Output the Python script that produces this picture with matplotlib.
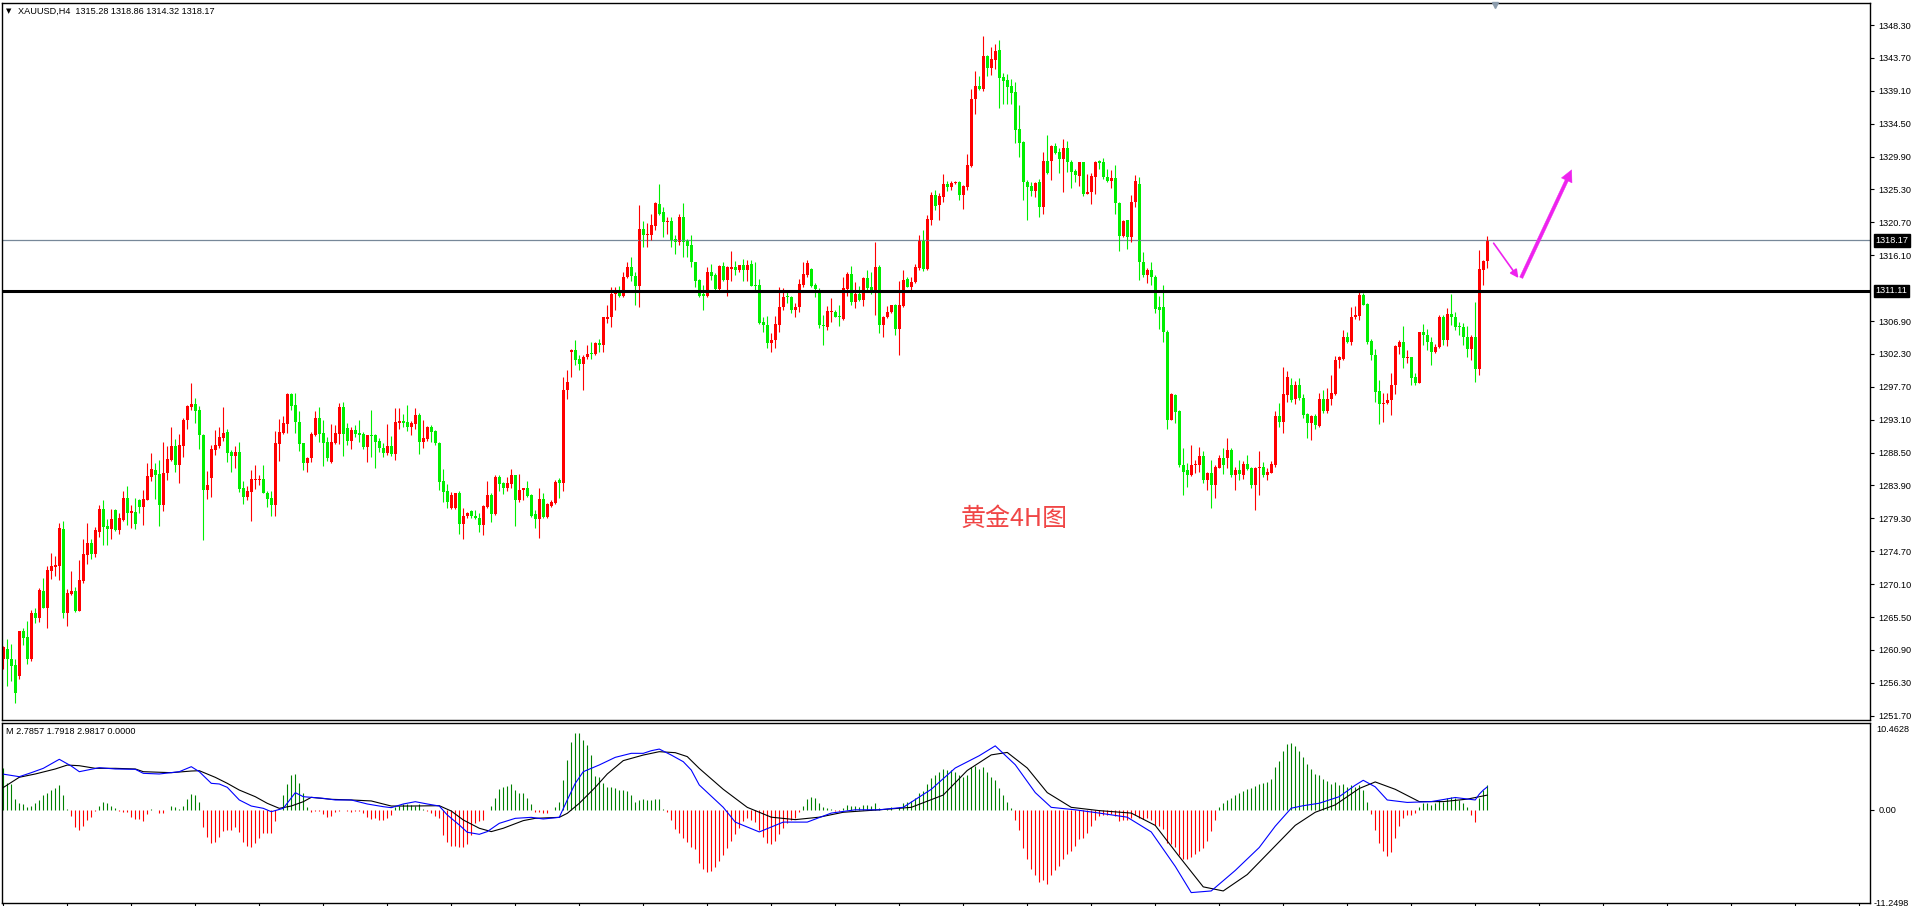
import matplotlib
matplotlib.use('Agg')
import matplotlib.pyplot as plt
import matplotlib.transforms as mtransforms
from matplotlib.patches import FancyArrowPatch
from matplotlib.lines import Line2D

# XAUUSD H4 candles, oldest first
opens = [
    1259.7, 1261.1, 1259.7, 1258.8, 1257.3, 1263.5, 1262.7, 1259.7, 1266.0, 1265.4,
    1269.1, 1266.8, 1271.9, 1272.5, 1272.6, 1277.8, 1266.0, 1268.7, 1269.1, 1266.4,
    1270.5, 1274.2, 1275.9, 1274.3, 1277.4, 1280.6, 1278.3, 1277.8, 1280.5, 1277.7,
    1279.1, 1282.2, 1280.1, 1280.2, 1281.9, 1280.9, 1281.9, 1285.1, 1286.1, 1285.5,
    1281.2, 1285.6, 1287.5, 1289.4, 1286.8, 1289.4, 1293.0, 1294.9, 1295.3, 1294.5,
    1291.0, 1283.2, 1285.0, 1288.9, 1289.4, 1290.5, 1291.4, 1288.6, 1288.0, 1288.6,
    1283.5, 1282.3, 1283.0, 1284.6, 1284.7, 1284.8, 1282.9, 1282.1, 1281.2, 1289.7,
    1291.2, 1292.5, 1296.7, 1295.1, 1292.8, 1289.8, 1287.0, 1287.7, 1291.0, 1293.3,
    1291.2, 1290.0, 1287.2, 1289.8, 1291.1, 1294.9, 1291.9, 1290.1, 1291.7, 1291.2,
    1291.1, 1289.3, 1291.0, 1291.0, 1290.1, 1289.2, 1288.4, 1289.4, 1288.3, 1292.6,
    1292.9, 1292.8, 1292.1, 1292.5, 1293.8, 1290.0, 1290.4, 1292.1, 1291.5, 1289.9,
    1284.5, 1283.1, 1280.7, 1280.7, 1282.8, 1278.5, 1279.6, 1280.3, 1279.7, 1279.4,
    1278.4, 1280.9, 1282.5, 1279.9, 1285.1, 1284.3, 1283.6, 1284.1, 1285.3, 1281.8,
    1283.2, 1283.5, 1282.5, 1279.9, 1279.2, 1282.0, 1279.5, 1281.1, 1281.5, 1284.7,
    1284.2, 1297.3, 1302.6, 1302.9, 1301.6, 1300.9, 1301.8, 1302.4, 1302.3, 1303.8,
    1303.5, 1307.2, 1307.4, 1310.7, 1310.9, 1310.4, 1313.0, 1314.4, 1313.2, 1311.8,
    1319.8, 1318.9, 1318.9, 1320.2, 1323.3, 1322.2, 1320.8, 1320.9, 1318.4, 1317.9,
    1321.4, 1318.1, 1317.5, 1315.2, 1312.6, 1310.7, 1310.4, 1313.7, 1313.4, 1311.4,
    1314.6, 1312.7, 1314.2, 1314.5, 1314.0, 1314.7, 1314.0, 1314.9, 1311.9, 1311.9,
    1306.8, 1306.3, 1303.8, 1304.2, 1306.4, 1308.8, 1310.3, 1310.3, 1308.4, 1308.8,
    1311.9, 1313.3, 1314.2, 1311.9, 1311.3, 1306.3, 1306.1, 1308.1, 1308.1, 1307.6,
    1307.2, 1311.4, 1313.5, 1309.6, 1310.7, 1309.9, 1312.9, 1311.6, 1310.8, 1314.4,
    1306.3, 1307.4, 1308.1, 1309.1, 1305.8, 1309.0, 1312.8, 1311.7, 1312.3, 1314.3,
    1318.2, 1314.2, 1321.0, 1324.5, 1323.1, 1324.3, 1326.1, 1325.7, 1326.2, 1326.4,
    1324.5, 1325.7, 1328.6, 1337.9, 1339.8, 1339.3, 1344.0, 1342.3, 1343.4, 1344.8,
    1341.0, 1340.6, 1339.8, 1339.0, 1333.8, 1332.0, 1326.4, 1325.8, 1325.1, 1326.3,
    1322.8, 1329.3, 1329.3, 1331.4, 1330.6, 1329.6, 1331.1, 1329.2, 1327.9, 1327.2,
    1329.1, 1324.7, 1324.9, 1327.1, 1329.3, 1329.1, 1327.1, 1326.5, 1326.9, 1323.4,
    1318.8, 1321.0, 1318.6, 1323.5, 1326.0, 1315.2, 1313.3, 1314.0, 1313.1, 1308.8,
    1308.8, 1305.3, 1293.1, 1296.6, 1294.3, 1286.8, 1286.1, 1285.3, 1286.7, 1286.7,
    1288.0, 1284.7, 1285.7, 1283.9, 1286.4, 1287.8, 1287.7, 1288.9, 1285.3, 1286.0,
    1285.4, 1286.9, 1286.4, 1284.0, 1286.3, 1286.5, 1285.3, 1285.7, 1286.7, 1293.6,
    1292.8, 1296.6, 1298.0, 1296.0, 1298.0, 1296.2, 1293.9, 1292.6, 1293.6, 1292.2,
    1296.0, 1294.3, 1296.0, 1296.7, 1301.5, 1301.6, 1304.7, 1304.0, 1307.4, 1307.6,
    1310.5, 1309.3, 1304.1, 1302.2, 1297.1, 1295.3, 1295.5, 1295.8, 1297.9, 1303.2,
    1303.9, 1301.7, 1301.8, 1299.1, 1298.3, 1305.3, 1305.0, 1304.0, 1302.5, 1303.2,
    1307.4, 1304.3, 1307.9, 1307.5, 1306.2, 1306.0, 1304.7, 1303.0, 1304.7, 1300.2,
    1314.0, 1315.28,
]
highs = [
    1261.4, 1262.4, 1261.7, 1259.6, 1263.6, 1264.0, 1265.0, 1266.5, 1266.7, 1269.5,
    1270.9, 1272.6, 1274.5, 1274.1, 1278.7, 1278.9, 1269.4, 1271.9, 1269.7, 1273.5,
    1276.4, 1278.7, 1276.4, 1278.1, 1281.2, 1281.9, 1279.2, 1280.6, 1280.6, 1280.0,
    1283.1, 1283.8, 1281.2, 1282.1, 1282.0, 1283.3, 1287.0, 1288.4, 1287.0, 1287.5,
    1290.0, 1289.4, 1292.1, 1290.4, 1291.1, 1293.3, 1295.1, 1298.2, 1296.2, 1295.0,
    1291.1, 1285.9, 1289.6, 1291.7, 1292.1, 1294.9, 1291.8, 1288.9, 1289.4, 1290.0,
    1284.5, 1283.8, 1286.1, 1286.8, 1285.4, 1286.8, 1283.1, 1283.1, 1291.5, 1293.2,
    1293.6, 1296.8, 1296.8, 1296.8, 1294.3, 1289.9, 1287.9, 1291.4, 1294.3, 1294.9,
    1293.1, 1290.7, 1292.5, 1292.4, 1295.4, 1295.6, 1292.6, 1292.1, 1292.4, 1293.1,
    1291.4, 1291.0, 1294.5, 1291.1, 1290.6, 1289.9, 1292.5, 1290.8, 1294.8, 1294.8,
    1293.9, 1295.2, 1292.9, 1294.8, 1294.1, 1293.1, 1292.2, 1292.3, 1291.7, 1290.0,
    1286.2, 1284.1, 1283.0, 1282.9, 1283.1, 1280.8, 1280.2, 1280.5, 1280.5, 1280.0,
    1281.2, 1284.5, 1282.8, 1285.3, 1285.4, 1284.4, 1285.1, 1286.2, 1285.4, 1285.5,
    1283.6, 1284.5, 1282.7, 1280.5, 1283.6, 1282.9, 1281.5, 1281.9, 1284.7, 1284.9,
    1299.1, 1300.1, 1303.0, 1304.3, 1302.2, 1302.1, 1303.6, 1303.9, 1303.9, 1304.4,
    1307.5, 1309.1, 1311.6, 1311.6, 1311.8, 1313.8, 1315.2, 1315.8, 1313.8, 1323.1,
    1320.9, 1320.6, 1321.9, 1323.5, 1326.1, 1322.8, 1321.5, 1321.5, 1318.9, 1321.9,
    1323.4, 1318.4, 1318.9, 1315.2, 1312.8, 1311.9, 1314.4, 1314.9, 1313.6, 1314.7,
    1315.1, 1314.6, 1316.7, 1315.3, 1314.8, 1315.6, 1315.4, 1315.5, 1315.1, 1312.8,
    1307.5, 1307.6, 1305.2, 1307.6, 1311.7, 1311.5, 1311.0, 1310.4, 1309.4, 1312.8,
    1315.2, 1315.4, 1314.3, 1312.2, 1311.5, 1307.7, 1309.0, 1310.1, 1308.4, 1309.1,
    1313.0, 1313.7, 1314.6, 1312.4, 1311.8, 1313.0, 1314.0, 1313.7, 1317.9, 1314.7,
    1307.6, 1309.0, 1309.2, 1309.3, 1312.5, 1314.1, 1313.0, 1313.0, 1314.9, 1319.0,
    1319.7, 1321.7, 1324.9, 1325.2, 1324.8, 1327.5, 1326.5, 1326.5, 1326.5, 1326.5,
    1325.9, 1330.3, 1339.3, 1341.8, 1341.2, 1346.7, 1344.1, 1345.2, 1345.7, 1346.2,
    1341.6, 1341.4, 1340.7, 1340.4, 1337.1, 1332.1, 1326.6, 1326.4, 1326.4, 1326.7,
    1330.5, 1332.9, 1331.5, 1331.8, 1331.1, 1332.4, 1332.1, 1329.4, 1328.1, 1329.2,
    1329.1, 1327.5, 1327.6, 1329.3, 1329.4, 1329.7, 1328.2, 1328.0, 1328.7, 1323.5,
    1321.1, 1321.1, 1324.5, 1327.3, 1327.0, 1316.5, 1314.3, 1315.1, 1313.3, 1310.4,
    1311.9, 1305.6, 1296.9, 1296.7, 1294.4, 1289.2, 1287.1, 1289.6, 1287.5, 1289.3,
    1288.7, 1285.8, 1287.5, 1286.8, 1288.2, 1289.1, 1290.6, 1289.1, 1286.5, 1287.4,
    1287.3, 1288.2, 1286.5, 1286.5, 1288.7, 1287.2, 1286.3, 1287.3, 1294.3, 1295.5,
    1300.5, 1299.9, 1298.9, 1298.5, 1299.0, 1296.7, 1294.1, 1293.8, 1293.9, 1296.8,
    1297.3, 1297.5, 1299.4, 1302.0, 1302.0, 1305.7, 1305.3, 1308.9, 1309.0, 1311.1,
    1310.8, 1309.4, 1304.4, 1303.0, 1298.7, 1296.9, 1296.8, 1299.6, 1303.6, 1304.3,
    1306.2, 1302.9, 1301.9, 1299.7, 1305.3, 1306.5, 1305.8, 1304.6, 1303.7, 1307.8,
    1307.7, 1308.7, 1310.7, 1308.1, 1306.7, 1306.6, 1306.2, 1305.0, 1309.5, 1316.8,
    1315.5, 1318.86,
]
lows = [
    1258.3, 1255.8, 1256.5, 1253.5, 1256.9, 1261.6, 1259.0, 1259.4, 1264.6, 1264.8,
    1266.7, 1263.9, 1270.8, 1271.3, 1270.7, 1265.4, 1264.2, 1268.6, 1266.2, 1266.3,
    1270.3, 1272.9, 1273.6, 1273.9, 1276.7, 1275.6, 1275.6, 1276.4, 1277.6, 1277.1,
    1279.0, 1278.4, 1278.0, 1277.8, 1280.1, 1278.4, 1281.8, 1284.5, 1282.0, 1278.3,
    1280.4, 1284.7, 1287.3, 1285.8, 1284.3, 1287.9, 1291.8, 1294.4, 1292.7, 1289.0,
    1276.3, 1282.0, 1282.3, 1288.2, 1289.1, 1290.1, 1287.2, 1285.8, 1286.4, 1283.0,
    1281.3, 1281.8, 1278.9, 1283.4, 1284.0, 1282.8, 1280.9, 1279.6, 1279.6, 1287.3,
    1291.1, 1291.2, 1294.5, 1291.2, 1288.7, 1286.1, 1285.8, 1287.2, 1290.8, 1290.0,
    1286.6, 1287.3, 1287.0, 1289.7, 1289.7, 1288.0, 1289.6, 1289.0, 1290.7, 1290.0,
    1289.0, 1287.2, 1287.9, 1286.3, 1288.6, 1287.9, 1288.2, 1288.0, 1287.5, 1291.8,
    1292.1, 1291.5, 1291.0, 1291.8, 1288.3, 1289.2, 1290.1, 1290.0, 1289.5, 1283.3,
    1281.6, 1280.7, 1280.6, 1280.6, 1277.1, 1276.4, 1279.3, 1279.4, 1279.2, 1277.4,
    1277.0, 1280.7, 1278.8, 1279.8, 1283.1, 1282.7, 1283.1, 1283.6, 1278.3, 1281.6,
    1281.9, 1282.3, 1279.5, 1278.0, 1276.5, 1279.4, 1279.4, 1280.9, 1281.3, 1282.1,
    1283.1, 1296.0, 1299.1, 1300.8, 1300.0, 1297.3, 1301.6, 1301.6, 1302.2, 1302.5,
    1302.5, 1306.6, 1306.0, 1308.4, 1310.3, 1310.2, 1312.9, 1312.5, 1309.1, 1308.8,
    1317.2, 1317.2, 1318.2, 1319.7, 1321.7, 1318.6, 1319.1, 1317.3, 1316.3, 1317.5,
    1315.9, 1315.9, 1314.5, 1311.6, 1310.2, 1308.4, 1310.3, 1312.6, 1311.2, 1311.2,
    1312.5, 1310.4, 1312.5, 1313.3, 1313.8, 1312.5, 1312.5, 1311.8, 1311.2, 1306.5,
    1305.4, 1303.1, 1302.5, 1303.1, 1305.3, 1308.5, 1309.4, 1308.0, 1307.5, 1308.2,
    1311.7, 1313.1, 1311.7, 1310.3, 1305.9, 1303.5, 1305.6, 1306.8, 1307.4, 1306.2,
    1307.1, 1310.4, 1309.1, 1308.7, 1309.7, 1309.0, 1311.2, 1310.7, 1307.7, 1305.2,
    1304.7, 1307.3, 1308.0, 1304.9, 1302.2, 1308.9, 1311.6, 1311.1, 1312.2, 1314.0,
    1313.9, 1314.1, 1320.3, 1322.4, 1321.0, 1323.6, 1325.1, 1325.2, 1326.1, 1323.8,
    1322.6, 1325.2, 1328.4, 1335.9, 1339.2, 1339.1, 1341.2, 1341.3, 1342.2, 1336.7,
    1337.3, 1337.3, 1337.3, 1331.8, 1329.9, 1323.8, 1321.0, 1324.4, 1324.3, 1321.4,
    1321.9, 1327.5, 1326.6, 1330.2, 1327.6, 1325.0, 1327.7, 1325.5, 1326.3, 1325.8,
    1324.4, 1324.6, 1323.3, 1324.7, 1328.1, 1326.7, 1326.4, 1325.5, 1321.9, 1316.7,
    1318.7, 1317.0, 1317.9, 1322.8, 1312.7, 1313.1, 1312.2, 1312.0, 1308.0, 1305.8,
    1304.0, 1291.8, 1293.0, 1292.7, 1286.5, 1282.5, 1283.7, 1285.2, 1285.7, 1285.8,
    1284.2, 1283.2, 1280.8, 1282.2, 1286.3, 1285.5, 1286.3, 1285.1, 1283.2, 1284.7,
    1284.8, 1286.0, 1283.5, 1280.5, 1282.5, 1285.1, 1284.7, 1285.6, 1286.5, 1292.1,
    1291.2, 1295.6, 1295.6, 1295.3, 1295.9, 1293.3, 1290.5, 1290.2, 1291.8, 1292.1,
    1294.0, 1294.1, 1295.2, 1296.6, 1300.4, 1301.4, 1303.8, 1303.6, 1307.2, 1307.0,
    1309.1, 1303.7, 1301.4, 1295.6, 1292.5, 1292.8, 1295.3, 1293.7, 1296.7, 1302.3,
    1300.4, 1301.1, 1297.9, 1297.9, 1298.2, 1303.6, 1302.9, 1300.7, 1302.4, 1303.1,
    1303.6, 1303.4, 1306.4, 1305.7, 1305.0, 1303.6, 1301.9, 1301.4, 1298.4, 1299.4,
    1311.9, 1314.32,
]
closes = [
    1261.3, 1259.6, 1258.7, 1254.9, 1263.5, 1262.6, 1259.7, 1266.1, 1265.4, 1269.3,
    1266.8, 1272.1, 1272.6, 1272.8, 1278.0, 1266.0, 1268.9, 1269.1, 1266.4, 1270.7,
    1274.3, 1275.8, 1274.3, 1277.7, 1280.6, 1278.1, 1277.8, 1279.2, 1277.7, 1279.4,
    1282.2, 1280.1, 1280.3, 1278.5, 1280.9, 1282.0, 1285.2, 1286.2, 1285.4, 1281.2,
    1285.6, 1287.6, 1289.4, 1286.8, 1289.6, 1293.1, 1295.0, 1295.3, 1294.3, 1291.0,
    1283.2, 1284.0, 1289.0, 1289.6, 1290.7, 1291.2, 1288.5, 1288.0, 1288.6, 1283.4,
    1282.3, 1283.1, 1284.8, 1284.8, 1284.8, 1282.9, 1282.0, 1281.2, 1289.8, 1291.4,
    1292.6, 1296.7, 1295.0, 1292.8, 1289.7, 1287.0, 1287.7, 1291.1, 1293.3, 1291.1,
    1289.8, 1287.7, 1290.0, 1291.2, 1294.9, 1291.1, 1290.1, 1291.7, 1291.1, 1291.0,
    1289.3, 1291.0, 1290.8, 1290.0, 1289.1, 1288.4, 1289.4, 1288.3, 1292.8, 1292.9,
    1292.6, 1292.1, 1292.6, 1293.8, 1290.0, 1290.5, 1292.1, 1291.4, 1289.8, 1284.4,
    1283.0, 1281.6, 1282.5, 1282.8, 1278.5, 1279.7, 1280.1, 1279.7, 1279.3, 1278.4,
    1281.1, 1282.5, 1279.9, 1285.1, 1284.1, 1283.6, 1284.2, 1285.3, 1281.8, 1283.3,
    1283.5, 1282.4, 1279.7, 1279.2, 1282.0, 1279.5, 1281.3, 1281.6, 1284.4, 1284.3,
    1297.3, 1298.4, 1302.9, 1301.5, 1300.9, 1301.9, 1302.3, 1302.3, 1303.8, 1303.5,
    1307.4, 1307.5, 1310.7, 1310.9, 1310.4, 1313.1, 1314.5, 1313.2, 1311.8, 1319.8,
    1318.9, 1319.1, 1320.3, 1323.4, 1321.9, 1320.8, 1320.9, 1318.2, 1317.9, 1321.4,
    1318.0, 1317.4, 1315.1, 1312.5, 1310.4, 1310.4, 1313.7, 1313.2, 1311.4, 1314.6,
    1312.7, 1314.4, 1314.5, 1314.0, 1314.7, 1314.0, 1314.7, 1311.8, 1311.8, 1306.6,
    1306.3, 1303.8, 1304.2, 1306.5, 1308.8, 1310.3, 1310.2, 1308.4, 1308.8, 1312.1,
    1313.5, 1315.0, 1311.8, 1311.4, 1306.3, 1306.2, 1308.3, 1308.3, 1307.5, 1307.5,
    1311.5, 1313.5, 1309.6, 1310.7, 1309.8, 1312.9, 1311.5, 1310.8, 1314.4, 1306.3,
    1307.5, 1308.1, 1309.1, 1305.8, 1309.2, 1312.6, 1311.7, 1312.4, 1314.4, 1318.2,
    1314.2, 1321.2, 1324.5, 1323.0, 1324.4, 1326.1, 1325.7, 1326.2, 1326.3, 1324.5,
    1325.8, 1328.7, 1338.0, 1339.8, 1339.4, 1344.0, 1342.3, 1343.5, 1344.7, 1340.9,
    1340.5, 1339.7, 1338.8, 1333.6, 1331.8, 1326.3, 1325.7, 1325.1, 1326.2, 1322.9,
    1329.3, 1327.6, 1331.4, 1330.4, 1329.5, 1331.1, 1329.1, 1327.8, 1327.3, 1329.1,
    1324.7, 1325.0, 1327.2, 1329.2, 1329.0, 1327.0, 1326.5, 1326.9, 1323.4, 1318.8,
    1320.9, 1318.6, 1323.5, 1326.5, 1315.1, 1313.3, 1314.0, 1313.0, 1308.6, 1308.4,
    1305.3, 1293.0, 1296.7, 1294.2, 1286.7, 1285.8, 1285.3, 1286.8, 1286.8, 1288.0,
    1284.7, 1285.7, 1283.9, 1286.5, 1287.8, 1286.7, 1288.9, 1285.3, 1286.0, 1285.5,
    1286.9, 1286.2, 1284.0, 1286.4, 1286.5, 1285.3, 1285.8, 1286.9, 1293.6, 1292.8,
    1296.7, 1299.1, 1295.9, 1298.0, 1296.2, 1293.8, 1292.6, 1293.6, 1292.4, 1296.0,
    1294.3, 1296.0, 1296.9, 1301.5, 1301.8, 1304.7, 1304.0, 1307.5, 1307.7, 1310.5,
    1309.2, 1303.9, 1302.2, 1297.0, 1295.3, 1295.5, 1295.9, 1298.0, 1303.4, 1303.9,
    1301.7, 1301.8, 1299.0, 1298.3, 1305.3, 1305.0, 1303.9, 1302.5, 1303.3, 1307.4,
    1304.3, 1307.9, 1307.4, 1306.1, 1306.0, 1304.6, 1303.0, 1304.7, 1300.2, 1314.2,
    1315.3, 1318.17,
]

# MACD sub-window: histogram (one bar per candle) and the two lines read at sample bars
macd_hist = [
    5.06, 3.23, 3.15, 1.32, 0.79, 0.67, 0.30, 0.46, 0.79, 1.21,
    1.80, 2.09, 2.41, 2.62, 3.02, 1.80, 0.05, -0.76, -2.14, -2.46,
    -1.98, -1.24, -0.92, -0.15, 0.46, 0.95, 0.79, 0.46, 0.18, -0.15,
    -0.23, -0.23, -0.92, -1.16, -1.16, -1.33, -0.55, 0.06, 0.02, -0.43,
    -0.35, -0.02, 0.46, 0.30, 0.14, 0.46, 1.28, 1.93, 1.80, 0.99,
    -2.14, -3.28, -4.01, -3.89, -3.28, -2.54, -2.46, -2.46, -2.14, -2.67,
    -3.89, -4.41, -4.49, -4.09, -3.40, -2.87, -2.87, -2.79, -1.33, 0.02,
    1.76, 3.15, 4.24, 4.37, 3.23, 2.01, 0.38, -0.23, -0.15, -0.15,
    -0.55, -0.92, -0.76, -0.23, -0.15, -0.02, -0.10, -0.27, -0.15, -0.15,
    -0.43, -0.92, -1.16, -1.04, -1.24, -1.24, -1.04, -0.63, 0.38, 0.46,
    0.71, 0.67, 0.59, 0.46, 0.71, 0.06, -0.15, -0.35, -0.76, -1.04,
    -3.07, -3.89, -4.37, -4.37, -4.49, -4.49, -4.21, -3.07, -1.65, -1.36,
    -1.24, 0.02, 0.46, 1.48, 2.50, 2.74, 2.90, 3.15, 2.41, 2.01,
    2.09, 1.48, 0.71, -0.23, -0.23, -0.35, -0.35, -0.02, 0.38, 0.99,
    3.63, 6.07, 8.31, 9.41, 9.41, 8.51, 7.90, 6.68, 4.12, 3.96,
    3.23, 2.82, 2.74, 2.62, 2.41, 2.41, 2.33, 1.80, 0.99, 1.20,
    1.28, 1.20, 1.20, 1.28, 1.32, 0.05, -0.23, -1.24, -2.38, -2.87,
    -3.48, -3.89, -4.49, -4.82, -6.50, -7.20, -7.60, -7.50, -7.00, -6.30,
    -5.50, -4.60, -3.80, -3.00, -2.20, -1.40, -1.00, -1.20, -1.50, -2.50,
    -3.30, -4.00, -4.20, -3.80, -3.00, -2.20, -1.60, -1.30, -1.00, -0.30,
    0.50, 1.30, 1.60, 1.50, 0.80, 0.30, 0.20, 0.10, -0.10, -0.20,
    0.20, 0.60, 0.50, 0.50, 0.40, 0.60, 0.60, 0.50, 0.80, 0.20,
    0.02, 0.10, 0.30, 0.02, 0.30, 0.80, 1.00, 1.10, 1.40, 2.00,
    2.30, 3.10, 3.90, 4.30, 4.60, 5.00, 4.90, 4.80, 4.60, 4.20,
    4.00, 4.20, 5.20, 5.40, 5.00, 5.20, 4.60, 4.00, 3.60, 2.60,
    1.80, 1.00, 0.20, -1.20, -2.50, -4.60, -6.00, -7.20, -8.00, -8.80,
    -8.60, -9.00, -8.00, -7.40, -6.80, -6.00, -5.40, -5.00, -4.40, -3.60,
    -3.40, -2.80, -2.00, -1.20, -0.80, -0.60, -0.60, -0.50, -0.80, -1.40,
    -1.20, -1.30, -1.00, -0.60, -1.00, -1.10, -1.00, -1.20, -1.80, -2.00,
    -2.40, -4.00, -4.20, -4.50, -5.50, -6.00, -6.00, -5.70, -5.40, -5.00,
    -4.60, -3.80, -2.60, -1.20, 0.30, 0.80, 1.20, 1.50, 1.80, 2.00,
    2.30, 2.50, 2.60, 2.90, 3.20, 3.30, 3.40, 3.70, 5.20, 6.00,
    7.20, 8.00, 8.20, 7.80, 7.20, 6.40, 5.60, 5.00, 4.40, 4.20,
    3.80, 3.50, 3.20, 3.40, 3.00, 3.20, 2.80, 3.00, 2.80, 3.00,
    2.40, 1.00, -0.50, -2.50, -4.00, -5.00, -5.60, -5.20, -3.40, -2.00,
    -1.00, -0.60, -0.60, -0.40, 0.40, 0.80, 0.80, 0.60, 0.80, 1.20,
    1.00, 1.40, 1.60, 1.40, 1.20, 0.80, 0.30, -0.60, -1.50, 1.50,
    2.40, 2.98,
]
dif_bars = [0, 4, 7, 10, 14, 17, 19, 24, 28, 33, 35, 39, 44, 47, 49, 52, 54, 56, 59, 62,
            65, 67, 70, 73, 75, 77, 80, 83, 87, 91, 95, 97, 100, 103, 106, 109, 111, 114, 116, 119,
            121, 124, 128, 132, 135, 139, 141, 143, 145, 149, 153, 157, 160, 162, 164, 167, 170, 172, 174, 180,
            183, 189, 195, 201, 207, 213, 219, 225, 232, 238, 244, 248, 253, 258, 262, 268, 274, 281, 287, 293,
            297, 302, 308, 314, 318, 322, 325, 329, 334, 338, 340, 343, 346, 351, 357, 363, 368, 369, 370, 371]
dif_vals = [4.35, 4.04, 4.53, 5.06, 6.16, 5.34, 4.65, 5.14, 4.98, 4.94, 4.45, 4.37, 4.65, 5.26, 4.65, 3.23, 3.15, 2.74, 1.20, 0.46,
            0.18, -0.23, 0.18, 2.09, 1.60, 1.52, 1.40, 1.20, 1.20, 0.71, 0.38, 0.26, 0.71, 0.99, 0.71, 0.46, -0.63, -1.85, -2.74, -2.99,
            -2.66, -1.65, -1.04, -0.92, -1.12, -0.92, 1.20, 3.23, 4.65, 5.47, 6.40, 6.89, 6.89, 7.21, 7.41, 6.68, 5.87, 4.85, 3.03, 0.30,
            -1.50, -2.70, -1.50, -1.50, -0.40, 0.00, 0.00, 0.30, 2.50, 5.10, 6.60, 7.80, 5.50, 2.10, 0.30, 0.00, -0.40, -0.90, -2.70, -6.90,
            -10.10, -9.90, -7.40, -4.60, -2.00, 0.20, 0.50, 0.80, 1.60, 3.00, 3.60, 2.80, 1.20, 0.90, 1.00, 1.50, 1.20, 1.90, 2.40, 2.79]
dea_bars = [0, 4, 8, 13, 16, 19, 23, 28, 33, 35, 42, 47, 49, 53, 56, 59, 63, 66, 69, 72,
            75, 77, 82, 87, 92, 97, 102, 109, 112, 115, 119, 122, 125, 130, 133, 139, 141, 144, 148, 151,
            155, 160, 164, 168, 171, 174, 180, 186, 192, 198, 204, 210, 219, 227, 235, 241, 247, 251, 256, 261,
            267, 274, 282, 288, 294, 300, 305, 311, 317, 323, 328, 333, 339, 343, 348, 354, 360, 366, 371]
dea_vals = [2.72, 3.97, 4.37, 4.98, 5.46, 5.38, 5.06, 5.06, 4.98, 4.65, 4.53, 4.73, 4.77, 3.96, 3.23, 2.41, 1.60, 0.79, 0.18, 0.46,
            0.99, 1.52, 1.28, 1.20, 1.08, 0.46, 0.46, 0.50, -0.15, -1.24, -2.25, -2.66, -2.25, -1.32, -1.04, -0.92, -0.43, 0.79, 2.74, 4.37,
            6.00, 6.68, 7.09, 6.97, 6.49, 5.05, 2.50, 0.30, -0.90, -1.20, -0.90, -0.30, 0.00, 0.30, 1.80, 4.80, 6.70, 7.00, 5.10, 2.10,
            0.30, -0.10, -0.40, -1.90, -5.70, -9.40, -9.90, -7.90, -4.90, -1.90, -0.30, 0.60, 2.60, 3.40, 2.50, 1.00, 1.00, 1.30, 1.79]

price_ticks = [1348.30, 1343.70, 1339.10, 1334.50, 1329.90, 1325.30, 1320.70, 1316.10, 1306.90, 1302.30, 1297.70,
               1293.10, 1288.50, 1283.90, 1279.30, 1274.70, 1270.10, 1265.50, 1260.90, 1256.30, 1251.70]
bid_price = 1318.17
level_price = 1311.11
macd_max, macd_min = 10.4628, -11.2498

# magenta forecast arrows (bar index, price)
arrow_down = ((372.2, 1318.1), (379.2, 1312.6))
arrow_up = ((379.2, 1312.6), (392.4, 1328.4))

W, H = 1918, 906
fig = plt.figure(figsize=(W / 100, H / 100), dpi=100)
fig.patch.set_facecolor('white')
num_font = ['Liberation Sans', 'DejaVu Sans']


def px_rect(x0, y0, x1, y1):
    return [x0 / W, 1 - y1 / H, (x1 - x0) / W, (y1 - y0) / H]


ax = fig.add_axes(px_rect(2, 3, 1870, 720))
axm = fig.add_axes(px_rect(2, 723, 1870, 903), sharex=ax)

# candles: red = up, green = down
bars = list(range(len(closes)))
up_col, dn_col = '#ff0000', '#00ee00'
cols = [up_col if c >= o else dn_col for o, c in zip(opens, closes)]
ax.vlines(bars, lows, highs, colors=cols, lw=0.8)
body_low = [min(o, c) for o, c in zip(opens, closes)]
body_h = [max(abs(c - o), 0.14) for o, c in zip(opens, closes)]
ax.bar(bars, body_h, bottom=body_low, width=0.78, color=cols, linewidth=0)

ax.axhline(bid_price, color='#778899', lw=0.9, zorder=1)
ax.axhline(level_price, color='black', lw=2.2, zorder=3)

ax.set_xlim(-0.325, 466.7)
ax.set_ylim(1251.10, 1351.38)
ax.yaxis.tick_right()
ax.set_yticks(price_ticks)
ax.set_yticklabels(['%.2f' % p for p in price_ticks])
ax.tick_params(axis='y', direction='out', length=3, width=0.8, pad=3,
               labelsize=6.6, colors='black')
ax.tick_params(axis='x', bottom=False, labelbottom=False)
for lab in ax.get_yticklabels():
    lab.set_family(num_font)

trans = mtransforms.blended_transform_factory(ax.transAxes, ax.transData)
for p in (bid_price, level_price):
    ax.text(1.0028, p, '%.2f' % p, transform=trans, color='white', fontsize=6.6,
            family=num_font, va='center', ha='left',
            bbox=dict(boxstyle='square,pad=0.18', fc='black', ec='black'))

for a in (ax, axm):
    for s in a.spines.values():
        s.set_color('black')
        s.set_linewidth(1.0)
    a.set_facecolor('white')

# magenta arrows
ax.add_patch(FancyArrowPatch(arrow_down[0], arrow_down[1], arrowstyle='-|>',
                             mutation_scale=12, color='#ee22ee', lw=1.2,
                             clip_on=False, zorder=5))
ax.add_patch(FancyArrowPatch(arrow_up[0], arrow_up[1],
                             arrowstyle='simple,head_length=0.6,head_width=0.6,tail_width=0.17',
                             mutation_scale=14, color='#ee22ee', lw=0.3,
                             clip_on=False, zorder=5))

# MACD panel
hcols = ['#008000' if v > 0 else '#ff0000' for v in macd_hist]
axm.vlines(bars, 0, macd_hist, colors=hcols, lw=0.8)
axm.plot(dea_bars, dea_vals, color='black', lw=0.8)
axm.plot(dif_bars, dif_vals, color='#0000ff', lw=0.8)
axm.set_ylim(-11.37, 10.59)
axm.yaxis.tick_right()
axm.set_yticks([0])
axm.set_yticklabels(['0.00'])
axm.tick_params(axis='y', direction='out', length=3, width=0.8, pad=3, labelsize=6.6)
for lab in axm.get_yticklabels():
    lab.set_family(num_font)
axm.set_xticks(range(0, 467, 16))
axm.tick_params(axis='x', direction='out', length=4, width=0.8, labelbottom=False)

fig.text(1876 / W, 1 - 729 / H, '%.4f' % macd_max, fontsize=6.6, family=num_font,
         va='center', ha='left')
fig.text(1874 / W, 1 - 903 / H, '%.4f' % macd_min, fontsize=6.6, family=num_font,
         va='center', ha='left')

# header texts
fig.text(6 / W, 1 - 11 / H, '\u25bc', fontsize=5, family='DejaVu Sans', va='center', ha='left')
fig.text(18 / W, 1 - 11 / H, 'XAUUSD,H4  %.2f %.2f %.2f %.2f' % (opens[-1], highs[-1], lows[-1], closes[-1]),
         fontsize=6.6, family=num_font, va='center', ha='left')
fig.text(6 / W, 1 - 732 / H, 'M 2.7857 1.7918 2.9817 0.0000', fontsize=6.6, family=num_font,
         va='center', ha='left')

fig.text(1014 / W, 1 - 519 / H, '黄金4H图', fontsize=18, color='#f04646',
         family=['Noto Sans CJK SC', 'DejaVu Sans'], va='center', ha='center')

# chart shift marker
fig.add_artist(Line2D([1495 / W], [1 - 5 / H], marker='v', markersize=5,
                      color='#8c9cac', transform=fig.transFigure))

fig.savefig('out.png', dpi=100, facecolor='white')
